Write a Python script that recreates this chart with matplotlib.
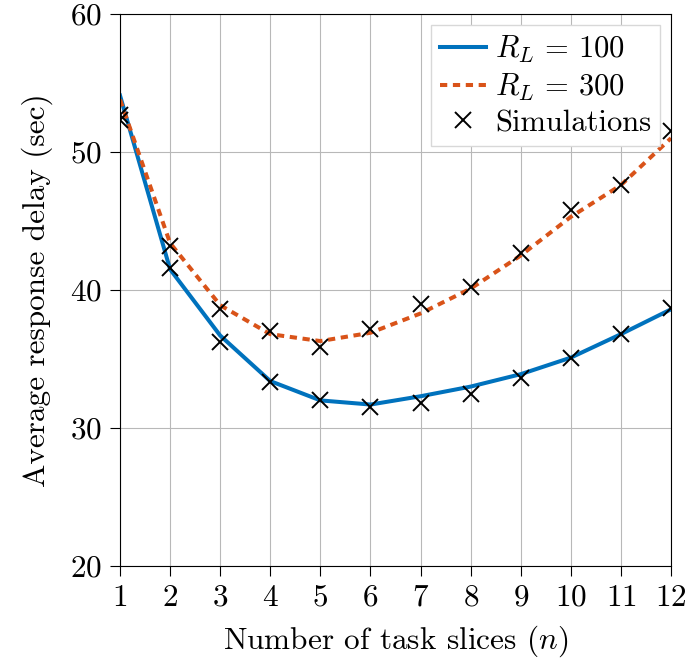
import matplotlib
matplotlib.use("Agg")
import matplotlib.pyplot as plt

plt.rcParams['font.family'] = 'serif'
plt.rcParams['font.serif'] = ['cmr10']
plt.rcParams['mathtext.fontset'] = 'cm'
plt.rcParams['axes.formatter.use_mathtext'] = True
plt.rcParams['axes.unicode_minus'] = False

# data
n = [1, 2, 3, 4, 5, 6, 7, 8, 9, 10, 11, 12]
delay_100 = [54.1, 41.5, 36.7, 33.4, 32.0, 31.7, 32.3, 33.0, 33.9, 35.1, 36.8, 38.6]
delay_300 = [53.8, 43.4, 38.9, 36.8, 36.3, 36.9, 38.3, 40.1, 42.5, 45.3, 47.6, 51.0]
sim_100 = [52.3, 41.6, 36.2, 33.3, 32.0, 31.5, 31.8, 32.5, 33.6, 35.1, 36.8, 38.7]
sim_300 = [52.7, 43.2, 38.6, 37.0, 35.9, 37.2, 39.0, 40.2, 42.7, 45.8, 47.6, 51.5]

blue = '#0072BD'
orange = '#D95319'
fs = 22.5

fig = plt.figure(figsize=(6.88, 6.64), dpi=100)
ax = fig.add_axes([120/688, 98/664, 551/688, 552/664])

ax.plot(n, delay_100, color=blue, lw=2.9, label=r'$R_L\,=\,100$')
ax.plot(n, delay_300, color=orange, lw=2.9, ls=(0, (1.8, 1.4)), label=r'$R_L\,=\,300$')
ax.plot(n, sim_100, ls='none', marker='x', color='black', ms=11.5, mew=1.4, label='Simulations')
ax.plot(n, sim_300, ls='none', marker='x', color='black', ms=11.5, mew=1.4)

ax.set_xlim(1, 12)
ax.set_ylim(20, 60)
ax.set_xticks(n)
ax.set_yticks([20, 30, 40, 50, 60])
ax.grid(True, color='#b8b8b8', lw=0.8)
ax.tick_params(labelsize=fs, direction='out', length=7, pad=6)
ax.set_xlabel(r'Number of task slices ($n$)', fontsize=fs, labelpad=8)
ax.set_ylabel('Average response delay (sec)', fontsize=fs, labelpad=12)

leg = ax.legend(loc='upper right', fontsize=22, fancybox=False, framealpha=1,
                edgecolor='#d8d8d8', handlelength=1.5, handletextpad=0.3,
                borderaxespad=0.35, borderpad=0.3, labelspacing=0.22)

fig.savefig('out.png', dpi=100)
